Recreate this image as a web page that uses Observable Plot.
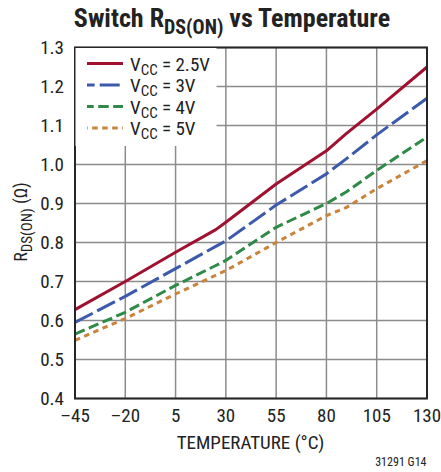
<!DOCTYPE html>
<html>
<head>
<meta charset="utf-8">
<script src="https://cdn.jsdelivr.net/npm/d3@7"></script>
<script src="https://cdn.jsdelivr.net/npm/@observablehq/plot@0.6"></script>
<style>
  html, body { margin: 0; padding: 0; background: #fff; }
  #chart { width: 441px; height: 472px; }
</style>
</head>
<body>
<div id="chart"></div>
<script>
// ---- data ----
const temps = [-45, -20, 5, 25, 30, 55, 80, 90, 105, 130];
const vcc25 = [0.628, 0.700, 0.775, 0.833, 0.852, 0.950, 1.035, 1.080, 1.142, 1.250];
const vcc3  = [0.595, 0.662, 0.733, 0.790, 0.804, 0.896, 0.976, 1.015, 1.076, 1.170];
const vcc4  = [0.565, 0.621, 0.690, 0.741, 0.754, 0.839, 0.900, 0.930, 0.985, 1.070];
const vcc5  = [0.549, 0.605, 0.668, 0.716, 0.728, 0.800, 0.869, 0.890, 0.938, 1.010];
const seriesNames = ["2.5V", "3V", "4V", "5V"];
const xTicks = [-45, -20, 5, 30, 55, 80, 105, 130];
const xTickLabels = ["\u201345", "\u201320", "5", "30", "55", "80", "105", "130"];
const yTicks = [0.4, 0.5, 0.6, 0.7, 0.8, 0.9, 1.0, 1.1, 1.2, 1.3];

// ---- styles ----
const FONT = "'Liberation Sans Narrow', 'Arial Narrow', 'Roboto Condensed', sans-serif";
const colors = ["#a0102f", "#3c5aab", "#2e8a47", "#c9833a"];
const dashes = [null, "20,5", "10.5,4.5", "5.5,4.5"];
const legendOffsets = [0, 12.3, 3.8, 4.8];

const seriesValues = [vcc25, vcc3, vcc4, vcc5];
const series = seriesNames.map((name, k) => ({
  name,
  color: colors[k],
  dash: dashes[k],
  points: temps.map((t, i) => ({ t, v: seriesValues[k][i] }))
}));

const W = 441, H = 472;
const svg = Plot.plot({
  width: W,
  height: H,
  marginLeft: 74.5,
  marginRight: 14.5,
  marginTop: 47,
  marginBottom: 74,
  style: { fontFamily: FONT, fontSize: "19px", color: "#222", background: "#fff" },
  x: { domain: [-45, 130] },
  y: { domain: [0.4, 1.3] },
  marks: [
    Plot.gridX(xTicks, { stroke: "#8c8c8c", strokeOpacity: 1, strokeWidth: 1.5 }),
    Plot.gridY(yTicks, { stroke: "#8c8c8c", strokeOpacity: 1, strokeWidth: 1.5 }),
    Plot.axisX(xTicks, {
      tickSize: 0, tickPadding: 10, label: null,
      tickFormat: d => xTickLabels[xTicks.indexOf(d)],
      fontSize: 19, fill: "#222"
    }),
    Plot.axisY(yTicks, {
      tickSize: 0, tickPadding: 11, label: null,
      tickFormat: d => d.toFixed(1),
      fontSize: 19, fill: "#222"
    }),
    ...series.slice().reverse().map(s =>
      Plot.line(s.points, {
        x: "t", y: "v", stroke: s.color, strokeWidth: 3,
        strokeDasharray: s.dash || undefined, strokeLinecap: "butt"
      })
    ),
    Plot.frame({ stroke: "#262626", strokeWidth: 2 })
  ]
});

document.getElementById("chart").appendChild(svg);

// ---- annotations: title, axis labels, legend, caption ----
const s = d3.select(svg);
const ann = s.append("g").attr("font-family", FONT).attr("fill", "#222");

// title
const title = ann.append("text")
  .attr("x", 232).attr("y", 27)
  .attr("text-anchor", "middle")
  .attr("font-size", 26).attr("font-weight", "bold");
title.append("tspan").text("Switch R");
title.append("tspan").attr("dy", 7).attr("font-size", 20).text("DS(ON)");
title.append("tspan").attr("dy", -7).text(" vs Temperature");

// y label
const yl = ann.append("text")
  .attr("transform", "translate(27,222) rotate(-90)")
  .attr("text-anchor", "middle")
  .attr("font-size", 18);
yl.append("tspan").text("R");
yl.append("tspan").attr("dy", 5).attr("font-size", 15).text("DS(ON)");
yl.append("tspan").attr("dy", -5).text(" (\u03A9)");

// x label
ann.append("text")
  .attr("x", 250.5).attr("y", 449)
  .attr("text-anchor", "middle")
  .attr("font-size", 19)
  .text("TEMPERATURE (\u00B0C)");

// caption
ann.append("text")
  .attr("x", 426.5).attr("y", 465.5)
  .attr("text-anchor", "end")
  .attr("font-size", 12)
  .text("31291 G14");

// legend
const lg = ann.append("g");
lg.append("rect")
  .attr("x", 75.5).attr("y", 48).attr("width", 141).attr("height", 98)
  .attr("fill", "#fff");
series.forEach((sr, k) => {
  const cy = 63.5 + k * 21.5;
  lg.append("line")
    .attr("x1", 87).attr("x2", 123).attr("y1", cy).attr("y2", cy)
    .attr("stroke", sr.color).attr("stroke-width", 3)
    .attr("stroke-dasharray", sr.dash || null)
    .attr("stroke-dashoffset", legendOffsets[k]);
  const t = lg.append("text").attr("x", 130).attr("y", cy + 7)
    .attr("font-size", 19).attr("text-anchor", "start");
  t.append("tspan").text("V");
  t.append("tspan").attr("dy", 4).attr("font-size", 15).text("CC");
  t.append("tspan").attr("dy", -4).text(" = " + sr.name);
});
</script>
</body>
</html>
